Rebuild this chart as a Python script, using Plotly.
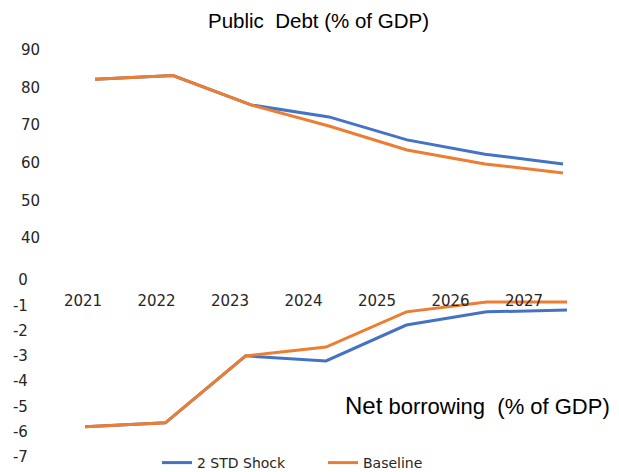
import plotly.graph_objects as go

years = ["2021", "2022", "2023", "2024", "2025", "2026", "2027"]
debt_shock = [82.2, 83.2, 75.4, 72.2, 66.1, 62.3, 59.7]
debt_base = [82.2, 83.2, 75.4, 69.8, 63.4, 59.7, 57.3]
nb_shock = [-5.8, -5.65, -3.0, -3.2, -1.78, -1.26, -1.19]
nb_base = [-5.8, -5.65, -3.0, -2.65, -1.26, -0.87, -0.87]
debt_ticks = [40, 50, 60, 70, 80, 90]
nb_ticks = [0, -1, -2, -3, -4, -5, -6, -7]
nb_ticktext = [str(v) for v in nb_ticks]

BLUE = "#4472C4"
ORANGE = "#ED7D31"
W, H = 619, 472
TICKFONT = dict(family="DejaVu Sans", size=15, color="#262626")

def px(x):
    return x / W

def py(y):
    return 1 - y / H

fig = go.Figure()
# top chart
fig.add_trace(go.Scatter(x=years, y=debt_shock, mode="lines", line=dict(color=BLUE, width=3),
                         name="2 STD Shock", showlegend=False, xaxis="x", yaxis="y"))
fig.add_trace(go.Scatter(x=years, y=debt_base, mode="lines", line=dict(color=ORANGE, width=3),
                         name="Baseline", showlegend=False, xaxis="x", yaxis="y"))
# bottom chart
fig.add_trace(go.Scatter(x=years, y=nb_shock, mode="lines", line=dict(color=BLUE, width=3),
                         name="2 STD Shock", xaxis="x2", yaxis="y2"))
fig.add_trace(go.Scatter(x=years, y=nb_base, mode="lines", line=dict(color=ORANGE, width=3),
                         name="Baseline", xaxis="x2", yaxis="y2"))
# category label axis helper (invisible)
fig.add_trace(go.Scatter(x=years, y=nb_base, mode="markers", marker=dict(opacity=0),
                         showlegend=False, hoverinfo="skip", xaxis="x3", yaxis="y2"))

fig.update_layout(
    width=W, height=H, margin=dict(l=0, r=0, t=0, b=0, pad=0, autoexpand=False),
    paper_bgcolor="white", plot_bgcolor="rgba(0,0,0,0)",
    xaxis=dict(domain=[px(56), px(602)], range=[-0.5, 6.5], type="category",
               showticklabels=False, showgrid=False, zeroline=False, showline=False,
               anchor="y", automargin=False),
    yaxis=dict(domain=[py(238), py(50)], range=[40, 90], tickvals=debt_ticks,
               showgrid=False, zeroline=False, showline=False, anchor="x",
               ticks="outside", ticklen=12, tickcolor="rgba(0,0,0,0)",
               tickfont=TICKFONT, automargin=False),
    xaxis2=dict(domain=[px(44.85), px(607.15)], range=[-0.5, 6.5], type="category",
                showticklabels=False, showgrid=False, zeroline=False, showline=False,
                anchor="y2", automargin=False),
    yaxis2=dict(domain=[py(457), py(280)], range=[-7, 0], tickvals=nb_ticks,
                ticktext=nb_ticktext,
                showgrid=False, zeroline=False, showline=False, anchor="x2",
                ticks="outside", ticklen=13, tickcolor="rgba(0,0,0,0)",
                tickfont=TICKFONT, automargin=False),
    xaxis3=dict(domain=[px(46.25), px(560.75)], range=[-0.5, 6.5], type="category",
                categoryorder="array", categoryarray=years,
                showgrid=False, zeroline=False, showline=False, anchor="free",
                position=py(290), side="bottom", tickfont=TICKFONT, automargin=False),
    legend=dict(orientation="h", x=px(157), xanchor="left", y=py(463), yanchor="middle",
                font=dict(family="DejaVu Sans", size=14, color="#262626"),
                entrywidth=121, entrywidthmode="pixels", bgcolor="rgba(0,0,0,0)"),
    annotations=[
        dict(text="Public\u00a0\u00a0Debt (% of GDP)", x=px(318), y=py(20), xref="paper", yref="paper",
             showarrow=False, xanchor="center", yanchor="middle",
             font=dict(family="Liberation Sans", size=20.5, color="#000000")),
        dict(text="<span style='font-size:24px'>Net</span> borrowing\u00a0\u00a0(% of GDP)",
             x=px(477), y=py(405), xref="paper", yref="paper",
             showarrow=False, xanchor="center", yanchor="middle",
             font=dict(family="Liberation Sans", size=22, color="#000000")),
    ],
)

fig.write_html("out.html", config={"displayModeBar": False},
               post_script="document.body.style.margin='0';")
